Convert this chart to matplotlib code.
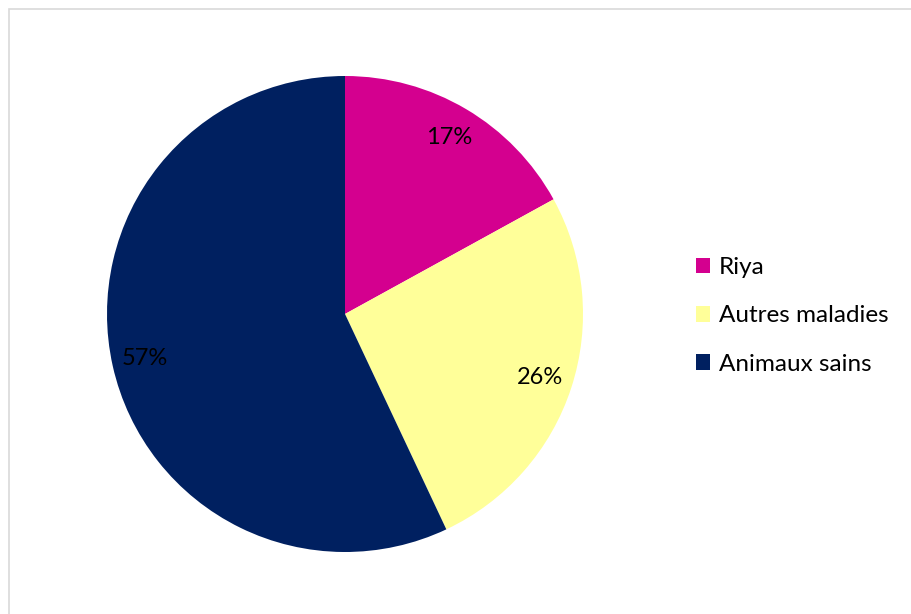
import matplotlib
matplotlib.use("Agg")
import matplotlib.pyplot as plt
from matplotlib.patches import Rectangle, Patch

categories = ["Riya", "Autres maladies", "Animaux sains"]
values = [17, 26, 57]
colors = ["#D4008F", "#FFFF99", "#002060"]

plt.rcParams["font.family"] = ["Lato", "DejaVu Sans"]

W, H = 911, 614
fig = plt.figure(figsize=(W / 100, H / 100), dpi=100)

# light frame around the chart area
fig.patches.append(Rectangle((9 / W, -0.05), 1.1, 1 - 9 / H + 0.05,
                             transform=fig.transFigure, fill=False,
                             edgecolor="#D9D9D9", linewidth=1.2))

cx, cy, r = 345, 314, 238
ax = fig.add_axes([(cx - r) / W, (H - cy - r) / H, 2 * r / W, 2 * r / H])
wedges, texts, autotexts = ax.pie(
    values, colors=colors, startangle=90, counterclock=False,
    autopct="%1.0f%%", pctdistance=0.86, radius=1,
    wedgeprops=dict(linewidth=0))
for t in autotexts:
    t.set_fontsize(17)
    t.set_color("black")
ax.set_xlim(-1, 1)
ax.set_ylim(-1, 1)
ax.set_aspect("equal")

handles = [Patch(facecolor=c, edgecolor="none") for c in colors]
fig.legend(handles, categories, loc="center left",
           bbox_to_anchor=(686 / W, 1 - 316 / H), frameon=False,
           fontsize=17.5, handlelength=0.6, handleheight=0.6,
           handletextpad=0.35, labelspacing=1.12, borderaxespad=0)

fig.savefig("out.png", dpi=100)
